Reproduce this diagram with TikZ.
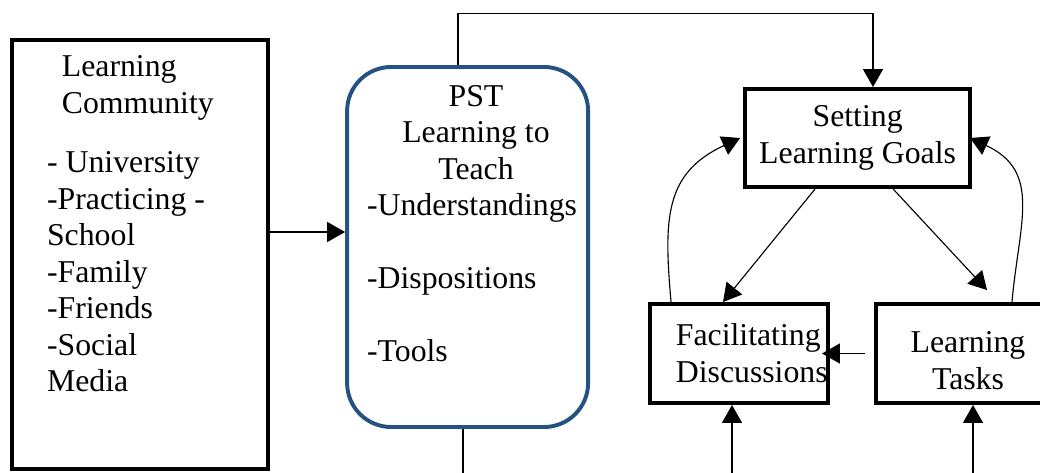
\documentclass[tikz,border=0pt]{standalone}
\usepackage{fontspec}
\setmainfont{Liberation Serif}
\usepackage{tikz}
\usetikzlibrary{arrows.meta, positioning, calc}
\definecolor{pstblue}{RGB}{38, 82, 130}

\begin{document}
\begin{tikzpicture}[
    txt/.style={inner sep=0pt, font=\fontsize{22.6}{26}\selectfont},
    blkbox/.style={rectangle, draw=black, line width=2.8pt},
    pstbox/.style={rectangle, draw=pstblue, line width=2.8pt, rounded corners=1.1cm},
    arr/.style={-{Triangle[length=0.45cm, width=0.5cm]}, line width=1.1pt},
    curve/.style={-{Triangle[length=0.45cm, width=0.5cm]}, line width=0.8pt}
]
    \useasboundingbox (0,0) rectangle (26,11.8);
    \clip (0,0) rectangle (26,11.8);

    % learning community
    \node[blkbox, minimum width=6.4cm, minimum height=10.725cm] (comm) at (3.5, 5.44) {};
    \node[txt, anchor=north west, align=left] (commtitle) at (1.54, 10.42) {Learning\\Community};
    \node[txt, anchor=north west, align=left] (commlist) at (1.17, 8.02)
        {- University\\-Practicing -\\School\\-Family\\-Friends\\-Social\\Media};

    % PST
    \node[pstbox, minimum width=6.025cm, minimum height=9cm] (pst) at (11.69, 5.625) {};
    \node[txt, anchor=north, align=center] (psttitle) at (11.9, 9.675) {PST\\Learning to\\Teach};
    \node[txt, anchor=north west, align=left] (pstlist) at (9.17, 6.97)
        {-Understandings\\[26pt]-Dispositions\\[26pt]-Tools};

    % cycle
    \node[blkbox, txt, align=center, draw, line width=2.8pt, minimum width=5.625cm, minimum height=2.45cm] (set) at (21.44, 8.35) {Setting\\Learning Goals};
    \node[blkbox, minimum width=4.45cm, minimum height=2.475cm] (facil) at (18.475, 2.9625) {};
    \node[txt, anchor=north west, align=left] (faciltxt) at (16.89, 3.717) {Facilitating\\Discussions};
    \node[blkbox, minimum width=4.6cm, minimum height=2.475cm] (tasks) at (24.2, 2.9625) {};
    \node[txt, anchor=north, align=center] (taskstxt) at (24.2, 3.5175) {Learning\\Tasks};

    % connectors
    \coordinate (toprt) at (21.825, 11.4625);
    \coordinate (pstout) at (11.575, -0.2);
    \coordinate (facin) at (18.3, -0.2);
    \coordinate (taskin) at (24.325, -0.2);

    \draw[arr] (comm.east |- 0,6) -- (pst.west |- 0,6);
    \draw[arr] (pst.north -| 11.45,0) |- (toprt) -- (toprt |- set.north);
    \draw[line width=1.1pt] (pst.south -| pstout) -- (pstout);

    \draw[curve] ([xshift=-1.0625cm]set.south) -- ([xshift=-0.4cm]facil.north);
    \draw[curve] ([xshift=0.8875cm]set.south) -- ([xshift=0.475cm, yshift=0.3cm]tasks.north);
    \draw[arr] ([xshift=-0.225cm]tasks.west) -- ([xshift=-0.2cm]facil.east);

    \draw[curve] ([xshift=0.575cm]facil.north west) to[out=95, in=205, looseness=1.2] ([xshift=-0.075cm]set.west);
    \draw[curve] ([xshift=1.1cm]tasks.north) to[out=85, in=-25, looseness=1.2] ([xshift=-0.05cm]set.east);

    \draw[arr] (facin) -- (facil.south -| facin);
    \draw[arr] (taskin) -- (tasks.south -| taskin);
\end{tikzpicture}
\end{document}
